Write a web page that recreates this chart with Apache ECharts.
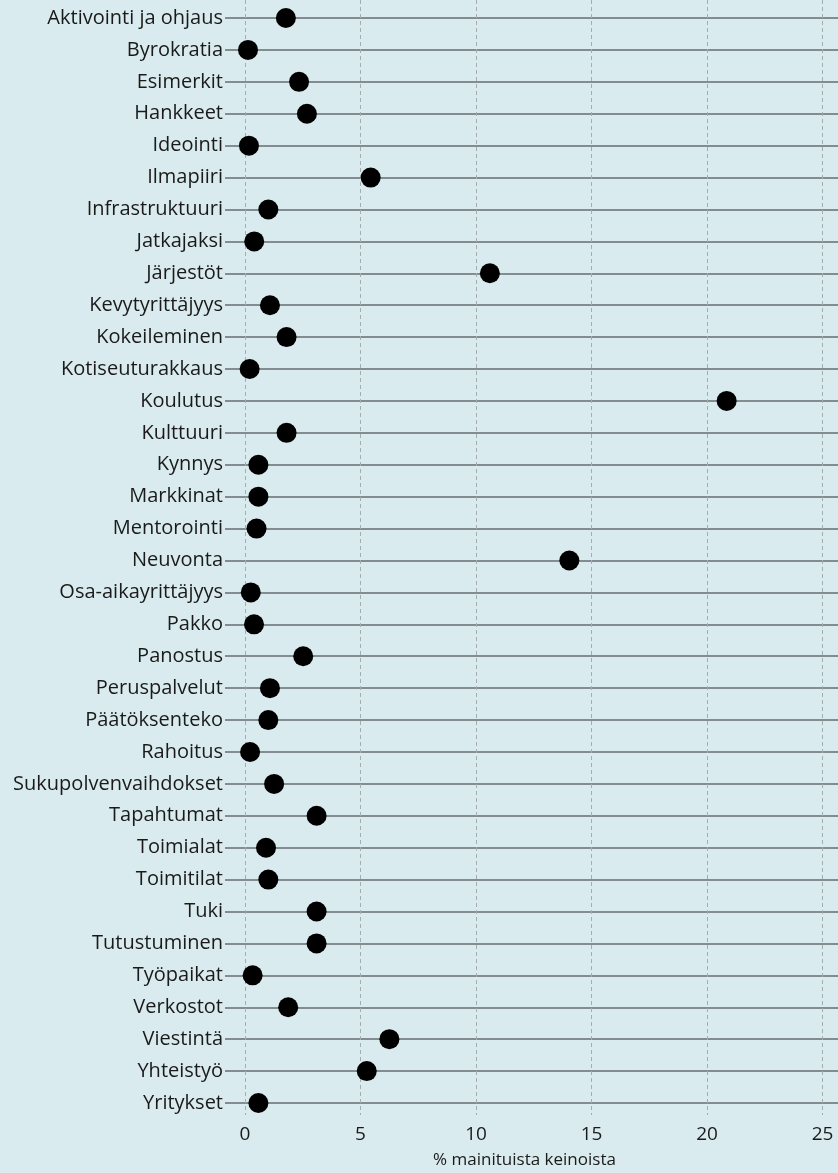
<!DOCTYPE html>
<html>
<head>
<meta charset="utf-8">
<script src="https://cdn.jsdelivr.net/npm/echarts@6/dist/echarts.min.js"></script>
<style>
  html, body { margin: 0; padding: 0; background: #d9ebee; }
  #chart { width: 838px; height: 1173px; }
</style>
</head>
<body>
<div id="chart"></div>
<script>
// keinot (kategoriat) ja osuus mainituista keinoista (%)
const categories = [
  'Aktivointi ja ohjaus', 'Byrokratia', 'Esimerkit', 'Hankkeet', 'Ideointi',
  'Ilmapiiri', 'Infrastruktuuri', 'Jatkajaksi', 'Järjestöt', 'Kevytyrittäjyys',
  'Kokeileminen', 'Kotiseuturakkaus', 'Koulutus', 'Kulttuuri', 'Kynnys',
  'Markkinat', 'Mentorointi', 'Neuvonta', 'Osa-aikayrittäjyys', 'Pakko',
  'Panostus', 'Peruspalvelut', 'Päätöksenteko', 'Rahoitus', 'Sukupolvenvaihdokset',
  'Tapahtumat', 'Toimialat', 'Toimitilat', 'Tuki', 'Tutustuminen',
  'Työpaikat', 'Verkostot', 'Viestintä', 'Yhteistyö', 'Yritykset'
];
const values = [
  1.77, 0.13, 2.34, 2.68, 0.17,
  5.44, 1.01, 0.40, 10.6, 1.08,
  1.80, 0.20, 20.85, 1.80, 0.58,
  0.58, 0.50, 14.04, 0.25, 0.39,
  2.52, 1.08, 1.01, 0.22, 1.26,
  3.10, 0.91, 1.01, 3.10, 3.10,
  0.33, 1.87, 6.25, 5.27, 0.58
];
const xTicks = [0, 5, 10, 15, 20, 25];
const xTitle = '% mainituista keinoista';

const font = 'Open Sans';
const xMax = 25.67;

let chart = echarts.init(document.getElementById('chart'), null, { renderer: 'canvas' });
chart.setOption({
  backgroundColor: '#d9ebee',
  animation: false,
  grid: [
    { left: 245, right: 0, top: 18, bottom: 70, outerBoundsMode: 'none' },
    // only for the dashed vertical lines, which run a bit longer
    { left: 245, right: 0, top: 0, bottom: 58, outerBoundsMode: 'none' }
  ],
  xAxis: [
    {
      type: 'value',
      gridIndex: 0,
      min: 0,
      max: xMax,
      interval: 5,
      axisLine: { show: false },
      axisTick: { show: false },
      splitLine: { show: false },
      axisLabel: {
        showMaxLabel: false,
        margin: 22,
        color: '#1a1a1a',
        fontFamily: font,
        fontSize: 19,
        formatter: function (v) { return xTicks.indexOf(v) >= 0 ? String(v) : ''; }
      },
      name: xTitle,
      nameLocation: 'middle',
      nameGap: 49,
      nameTextStyle: {
        color: '#1a1a1a',
        fontFamily: font,
        fontSize: 17,
        padding: [0, 34, 0, 0]
      }
    },
    {
      type: 'value',
      gridIndex: 1,
      min: 0,
      max: xMax,
      interval: 5,
      axisLine: { show: false },
      axisTick: { show: false },
      axisLabel: { show: false },
      splitLine: {
        show: true,
        lineStyle: { color: '#a3adaf', type: [4, 3], width: 1 }
      }
    }
  ],
  yAxis: [
    {
      type: 'category',
      gridIndex: 0,
      data: categories,
      inverse: true,
      boundaryGap: false,
      axisLine: { show: false },
      axisTick: {
        show: true,
        interval: 0,
        length: 20,
        lineStyle: { color: '#838d90', width: 2 }
      },
      axisLabel: {
        interval: 0,
        margin: 22,
        color: '#1a1a1a',
        fontFamily: font,
        fontSize: 20
      },
      splitLine: {
        show: true,
        interval: 0,
        lineStyle: { color: '#838d90', width: 2 }
      }
    },
    {
      type: 'value',
      gridIndex: 1,
      show: false
    }
  ],
  series: [
    {
      type: 'scatter',
      xAxisIndex: 0,
      yAxisIndex: 0,
      data: values,
      symbol: 'circle',
      symbolSize: 20,
      itemStyle: { color: '#000000', opacity: 1 },
      z: 5
    }
  ]
});
</script>
</body>
</html>
